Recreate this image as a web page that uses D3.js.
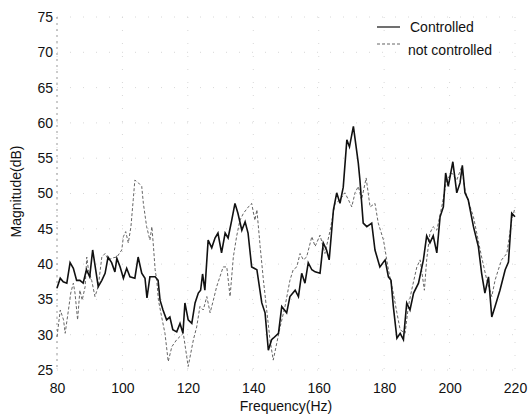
<!DOCTYPE html>
<html>
<head>
<meta charset="utf-8">
<script src="https://cdn.jsdelivr.net/npm/d3@7"></script>
<style>
  body { margin: 0; background: #fff; }
  svg text { font-family: "Liberation Sans", Arial, sans-serif; fill: #111; }
</style>
</head>
<body>
<div id="chart"></div>
<script>
// tick values
var xTicks = [80, 100, 120, 140, 160, 180, 200, 220]
var yTicks = [25, 30, 35, 40, 45, 50, 55, 60, 65, 70, 75]

// controlled (solid)
var ctrlHz = [80, 81, 81.9, 83, 84, 85, 86, 87, 88, 89, 90, 90.9, 91.6, 92.6, 93.7, 94.7, 95.6, 96.7, 97.7, 98.3,
  99.3, 100.3, 101.3, 102.3, 103.8, 104.8, 105.9, 106.9, 107.5, 108.4, 110, 110.9, 111.5, 112.4, 113.5, 114.5, 115.4,
  116.6, 117.6, 118.5, 119.1, 120.1, 121.2, 122.2, 123.2, 123.9, 124.5, 125.2, 126.2, 127.3, 128.3, 129.2, 130.3,
  131.4, 132.3, 133.4, 134.4, 135.3, 136.5, 137.5, 138.4, 139.5, 141.1, 142.6, 143.6, 144.6, 145.6, 146.1, 147.7,
  148.7, 150.2, 151.2, 152.8, 153.8, 154.8, 155.8, 156.8, 157.9, 158.9, 160.4, 161.4, 162.4, 163.2, 164.5, 165.5,
  166.5, 167.5, 168.6, 169.4, 170.6, 172.1, 172.6, 173.6, 174.7, 176.2, 177.2, 178.7, 180.3, 181.3, 182.1, 182.8,
  183.9, 184.9, 185.9, 186.9, 187.9, 189, 190.5, 192, 193, 194, 195, 196.1, 197.1, 198.1, 198.8, 199.6, 201, 202.2,
  203.2, 203.9, 204.7, 205.7, 207.3, 208.8, 209.8, 210.8, 211.9, 212.9, 213.9, 215.4, 217, 218, 219, 220]
var ctrlDb = [36.6, 38, 37.5, 37.3, 40.2, 39.4, 37.7, 37.7, 37.3, 39.2, 38.2, 42, 39.9, 36.8, 37.7, 38.7, 41, 40.2, 38.9, 40.8,
  39.6, 38, 39.4, 38.2, 38, 41, 38.7, 38, 35.2, 38.2, 38.2, 37.7, 34.9, 33.5, 32.1, 32.5, 30.7,
  30.4, 31.6, 30.2, 34.5, 32.1, 31.6, 34.5, 35.9, 36.3, 38.6, 36.3, 43.4, 42.3, 43.7, 44.4, 41.6,
  44.4, 43.7, 46.2, 48.6, 47.2, 44.8, 46, 44.4, 39.6, 39.2, 34.5, 33.1, 27.8, 29.3, 29.5, 30.2,
  34, 33.1, 35.4, 36.3, 35.4, 38.7, 37.3, 40.2, 39.2, 38.9, 38.7, 43, 42, 40.6, 47.7, 50.1,
  48.6, 50.9, 57.6, 56.6, 59.5, 54.3, 51.9, 45.8, 45.3, 45.8, 42, 39.6, 40.6, 38.2, 37.7, 34,
  29.5, 30.2, 29.3, 34.5, 33.5, 35.9, 37.3, 40.6, 44, 43, 44, 41.6, 46.7, 48.1, 52.9, 51, 54.5, 50.1,
  51.5, 54, 50.1, 49.1, 45.3, 42.5, 38.7, 35.9, 38.2, 32.5, 34, 36.3, 39.2, 40.3, 47.2, 46.7]

// not controlled (dashed)
var openHz = [80, 81, 82, 82.5, 83.5, 84.2, 85, 85.5, 86.3, 87, 87.7, 88.6, 89.1, 89.6, 90.6, 91.6, 92.6, 93.7, 94.7,
  95.7, 97.2, 98.3, 99.8, 100.3, 101, 101.8, 102.6, 103.3, 103.8, 104.9, 105.9, 106.4, 107.4, 108.4, 109, 109.4, 110,
  110.5, 111, 112, 113, 114, 115.1, 116.6, 118.6, 120.1, 121.7, 122.7, 123.7, 124.7, 125.8, 126.8, 127.8, 128.8,
  129.8, 130.8, 131.9, 132.9, 133.9, 134.9, 135.9, 137, 138.5, 139.5, 140.5, 141.1, 142.1, 143.1, 144.1, 145.1,
  146.1, 148.2, 149.7, 151.2, 152.2, 153.3, 154.3, 155.3, 156.3, 157.9, 158.9, 160.4, 161.9, 163.5, 165, 166.5,
  168, 169.1, 170.1, 171.1, 172.1, 173.1, 174.5, 175.7, 177.2, 178.2, 179.8, 181.3, 182.8, 183.9, 184.9, 186.4,
  187.4, 188.4, 190, 191, 192.3, 193, 194, 195, 196.1, 197.6, 199.1, 200.7, 202.2, 203.7, 204.7, 206.3, 207.3,
  208.3, 209.8, 211.4, 212.9, 213.9, 214.9, 215.9, 217.5, 219, 220]
var openDb = [29.7, 33.5, 32.1, 30.2, 33.5, 35.9, 37.3, 35.9, 32.1, 36.3, 34.9, 36.8, 41, 39.2, 37.7, 35.4, 36.8, 41, 41.5,
  40.6, 40.9, 41, 42, 43.9, 44.6, 43, 45.3, 49.1, 51.9, 51.5, 51, 48.6, 45.3, 43.4, 45.3, 43, 39.2,
  37.7, 34.9, 32.5, 30.2, 26.2, 28.3, 29.3, 30.2, 25.5, 29.3, 31.1, 34, 33.5, 35.4, 33.1, 34.9, 36.8,
  38.2, 39.6, 39.6, 35.4, 41, 43.9, 46.2, 47.2, 48.1, 48.6, 46.2, 47.7, 42.5, 37.7, 33.5, 29.3,
  26.4, 31.1, 34, 37.7, 39.2, 39.6, 41.5, 40.6, 41, 43.9, 42.5, 44.1, 41.5, 44.8, 48.6, 49.1,
  50.1, 49.1, 48.1, 50.1, 51, 49.1, 52.2, 48.1, 48.6, 45.8, 43.4, 39.2, 35.9, 33.1, 30.7, 30.2,
  34, 36.3, 39.6, 40.6, 36.3, 40.6, 44.4, 45.3, 44.8, 48.1, 51.9, 52.9, 51.9, 53.8, 50.5, 48.1, 46.7,
  44.4, 41, 37.7, 35.4, 37.7, 39.2, 40.6, 41.5, 46.2, 48]

var legendLabels = ["Controlled", "not controlled"]

var margin = {top: 17, right: 17, bottom: 44, left: 57},
    width = 532 - margin.left - margin.right,
    height = 414 - margin.top - margin.bottom

var svg = d3.select("#chart")
    .append("svg")
    .attr("width", 532)
    .attr("height", 414)
    .append("g")
    .attr("transform", "translate(" + margin.left + "," + margin.top + ")")

var x = d3.scaleLinear()
    .domain([80, 220])
    .range([0, width])

var y = d3.scaleLinear()
    .domain([25, 75])
    .range([height, 0])

// faint dotted grid (scan barely shows it)
svg.append("g")
    .selectAll("line")
    .data(xTicks)
    .enter()
    .append("line")
    .attr("x1", function(d) { return x(d) })
    .attr("x2", function(d) { return x(d) })
    .attr("y1", 0)
    .attr("y2", height)
    .attr("stroke", "#d8d8d8")
    .attr("stroke-width", 1)
    .style("stroke-dasharray", "1,12")

svg.append("g")
    .selectAll("line")
    .data(yTicks)
    .enter()
    .append("line")
    .attr("x1", 0)
    .attr("x2", width)
    .attr("y1", function(d) { return y(d) })
    .attr("y2", function(d) { return y(d) })
    .attr("stroke", "#d8d8d8")
    .attr("stroke-width", 1)
    .style("stroke-dasharray", "1,12")

// axes without lines, only labels
var xAxis = svg.append("g")
    .attr("transform", "translate(0," + height + ")")
    .call(d3.axisBottom(x).tickValues(xTicks).tickSize(0).tickPadding(13))
xAxis.select(".domain").remove()
xAxis.selectAll("text").style("font-size", "14px")

var yAxis = svg.append("g")
    .call(d3.axisLeft(y).tickValues(yTicks).tickSize(0).tickPadding(4))
yAxis.select(".domain").remove()
yAxis.selectAll("text").style("font-size", "14px")

svg.append("line")
    .attr("x1", 0).attr("x2", 0)
    .attr("y1", 0).attr("y2", height)
    .attr("stroke", "#999")
    .style("stroke-dasharray", "2,4")

var line = d3.line()
    .x(function(d) { return x(d[0]) })
    .y(function(d) { return y(d[1]) })

svg.append("path")
    .datum(d3.zip(openHz, openDb))
    .attr("fill", "none")
    .attr("stroke", "#666")
    .attr("stroke-width", 1)
    .style("stroke-dasharray", "3,2")
    .attr("d", line)

svg.append("path")
    .datum(d3.zip(ctrlHz, ctrlDb))
    .attr("fill", "none")
    .attr("stroke", "#111")
    .attr("stroke-width", 1.6)
    .attr("d", line)

// legend
var legend = svg.append("g")
    .attr("transform", "translate(320,10)")

legend.append("line")
    .attr("x1", 0).attr("x2", 23)
    .attr("y1", 0).attr("y2", 0)
    .attr("stroke", "#111")
    .attr("stroke-width", 1.2)

legend.append("line")
    .attr("x1", 0).attr("x2", 23)
    .attr("y1", 17).attr("y2", 17)
    .attr("stroke", "#666")
    .style("stroke-dasharray", "3,2")

legend.append("text")
    .attr("x", 33).attr("y", 5)
    .style("font-size", "14px")
    .text(legendLabels[0])

legend.append("text")
    .attr("x", 31).attr("y", 28)
    .style("font-size", "14px")
    .text(legendLabels[1])

svg.append("text")
    .attr("text-anchor", "middle")
    .attr("x", width / 2)
    .attr("y", height + 41)
    .style("font-size", "14px")
    .text("Frequency(Hz)")

svg.append("text")
    .attr("text-anchor", "middle")
    .attr("transform", "rotate(-90)")
    .attr("x", -(height / 2) + 2)
    .attr("y", -36)
    .style("font-size", "14px")
    .text("Magnitude(dB)")
</script>
</body>
</html>
